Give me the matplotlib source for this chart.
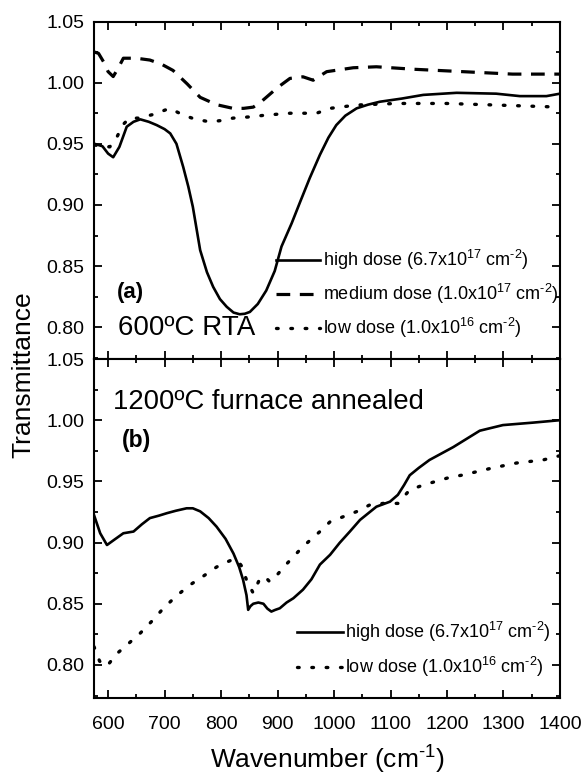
import matplotlib
matplotlib.use("Agg")
import matplotlib.pyplot as plt
from matplotlib.ticker import MultipleLocator, FormatStrFormatter

plt.rcParams['font.family'] = ['Liberation Sans', 'DejaVu Sans']
plt.rcParams['mathtext.fontset'] = 'custom'
plt.rcParams['mathtext.rm'] = 'Liberation Sans'
plt.rcParams['mathtext.default'] = 'regular'

# ---- Panel (a): 600ºC RTA ----
a_high_x = [576, 590, 600, 609, 620, 633, 645, 657, 672, 686, 700, 710, 721, 733, 742, 750,
            763, 775, 786, 798, 810, 822, 833, 842, 851, 865, 880, 895, 907, 925, 940, 957,
            975, 990, 1004, 1020, 1040, 1060, 1081, 1120, 1158, 1217, 1287, 1329, 1376, 1400]
a_high_y = [0.950, 0.948, 0.942, 0.939, 0.9475, 0.964, 0.968, 0.970, 0.968, 0.9653, 0.962, 0.9585,
            0.950, 0.931, 0.915, 0.8985, 0.863, 0.845, 0.833, 0.823, 0.8167, 0.812, 0.8106, 0.811,
            0.8125, 0.819, 0.830, 0.846, 0.866, 0.885, 0.9025, 0.922, 0.941, 0.955, 0.9653, 0.973,
            0.979, 0.982, 0.9844, 0.987, 0.990, 0.9917, 0.991, 0.989, 0.989, 0.991]

a_med_x = [576, 583, 592, 600, 609, 618, 627, 650, 674, 695, 715, 740, 763, 792, 821, 840, 857,
           870, 880, 900, 922, 945, 963, 987, 1034, 1075, 1140, 1228, 1316, 1400]
a_med_y = [1.025, 1.024, 1.017, 1.009, 1.005, 1.012, 1.020, 1.020, 1.0185, 1.015, 1.010, 0.999,
           0.988, 0.982, 0.979, 0.979, 0.980, 0.984, 0.988, 0.996, 1.0035, 1.0048, 1.002, 1.009,
           1.0122, 1.013, 1.011, 1.009, 1.007, 1.007]

a_low_x = [576, 590, 603, 615, 627, 638, 653, 680, 709, 733, 755, 780, 800, 821, 850, 880, 922,
           969, 993, 1040, 1110, 1199, 1287, 1400]
a_low_y = [0.949, 0.948, 0.9475, 0.955, 0.966, 0.971, 0.971, 0.974, 0.979, 0.9735, 0.970, 0.968,
           0.969, 0.971, 0.972, 0.9735, 0.975, 0.975, 0.979, 0.9817, 0.983, 0.983, 0.9817, 0.980]

# ---- Panel (b): 1200ºC furnace annealed ----
b_high_x = [575, 586, 598, 610, 627, 645, 660, 674, 690, 704, 720, 739, 750, 763, 778, 792, 808,
            822, 832, 839, 845, 848, 852, 857, 866, 875, 882, 889, 896, 904, 916, 928, 945, 960,
            975, 993, 1010, 1028, 1046, 1075, 1099, 1113, 1124, 1134, 1150, 1169, 1211, 1258,
            1299, 1352, 1400]
b_high_y = [0.9225, 0.9076, 0.898, 0.902, 0.9076, 0.909, 0.915, 0.920, 0.922, 0.924, 0.926, 0.928,
            0.928, 0.9255, 0.920, 0.913, 0.903, 0.891, 0.880, 0.8695, 0.857, 0.845, 0.848, 0.850,
            0.851, 0.850, 0.846, 0.8436, 0.845, 0.8463, 0.851, 0.8545, 0.8615, 0.870, 0.882,
            0.890, 0.8998, 0.909, 0.9185, 0.9293, 0.9334, 0.939, 0.947, 0.955, 0.961, 0.9675,
            0.978, 0.9914, 0.996, 0.998, 1.000]

b_low_x = [575, 585, 598, 615, 635, 657, 678, 698, 720, 745, 770, 792, 810, 822, 830, 836, 845,
           857, 869, 878, 886, 900, 916, 945, 975, 993, 1040, 1063, 1087, 1113, 1134, 1158, 1205,
           1228, 1278, 1323, 1370, 1400]
b_low_y = [0.815, 0.803, 0.799, 0.809, 0.817, 0.826, 0.836, 0.8463, 0.856, 0.8654, 0.873, 0.880,
           0.884, 0.8864, 0.885, 0.881, 0.8695, 0.8586, 0.8708, 0.872, 0.868, 0.874, 0.8825,
           0.8967, 0.909, 0.917, 0.9253, 0.9307, 0.932, 0.932, 0.943, 0.947, 0.9533, 0.9552,
           0.9607, 0.965, 0.9675, 0.971]

lbl_high = r"high dose (6.7x10$^{17}$ cm$^{\text{-}2}$)"
lbl_med = r"medium dose (1.0x10$^{17}$ cm$^{\text{-}2}$)"
lbl_low = r"low dose (1.0x10$^{16}$ cm$^{\text{-}2}$)"

x_ticks_major = 100
x_ticks_minor = 50

fig = plt.figure(figsize=(5.83, 7.83), dpi=100)
ax1 = fig.add_axes([0.1612, 0.5415, 0.7993, 0.4310])
ax2 = fig.add_axes([0.1612, 0.1086, 0.7993, 0.4329])

solid_kw = dict(color='black', lw=1.9, linestyle='-')
dash_kw = dict(color='black', lw=2.3, linestyle=(0, (4.3, 3.0)), dash_capstyle='butt')
dot_kw = dict(color='black', lw=2.4, linestyle=(0, (0.5, 3.8)), dash_capstyle='round')

ax1.plot(a_high_x, a_high_y, label=lbl_high, **solid_kw)
ax1.plot(a_med_x, a_med_y, label=lbl_med, **dash_kw)
ax1.plot(a_low_x, a_low_y, label=lbl_low, **dot_kw)

ax2.plot(b_high_x, b_high_y, label=lbl_high, **solid_kw)
ax2.plot(b_low_x, b_low_y, label=lbl_low, **dot_kw)

ax1.set_ylim(0.774, 1.05)
ax2.set_ylim(0.773, 1.05)
for ax in (ax1, ax2):
    ax.set_xlim(575, 1400)
    ax.xaxis.set_major_locator(MultipleLocator(x_ticks_major))
    ax.xaxis.set_minor_locator(MultipleLocator(x_ticks_minor))
    ax.yaxis.set_major_locator(MultipleLocator(0.05))
    ax.yaxis.set_minor_locator(MultipleLocator(0.025))
    ax.yaxis.set_major_formatter(FormatStrFormatter('%.2f'))
    ax.tick_params(which='both', direction='in', top=True, right=True, width=1.3)
    ax.tick_params(which='major', length=5.5, labelsize=14, pad=7)
    ax.tick_params(which='minor', length=3)
    ax.tick_params(axis='x', pad=13)
    for s in ax.spines.values():
        s.set_linewidth(1.5)

ax1.tick_params(axis='x', labelbottom=False)

leg1 = ax1.legend(loc='lower left', bbox_to_anchor=(0.39, 0.055), frameon=False,
                  fontsize=13, handlelength=2.45, handletextpad=0.15, labelspacing=0.55,
                  borderpad=0, borderaxespad=0)
leg2 = ax2.legend(loc='lower left', bbox_to_anchor=(0.435, 0.055), frameon=False,
                  fontsize=13, handlelength=2.55, handletextpad=0.15, labelspacing=0.6,
                  borderpad=0, borderaxespad=0)

ax1.text(0.049, 0.196, '(a)', transform=ax1.transAxes, fontsize=16, fontweight='bold',
         ha='left', va='center')
ax1.text(0.051, 0.092, '600ºC RTA', transform=ax1.transAxes, fontsize=20,
         ha='left', va='center')
ax2.text(0.041, 0.873, '1200ºC furnace annealed', transform=ax2.transAxes, fontsize=19.8,
         ha='left', va='center')
ax2.text(0.059, 0.761, '(b)', transform=ax2.transAxes, fontsize=16.5, fontweight='bold',
         ha='left', va='center')

fig.text(0.04, 0.521, 'Transmittance', rotation=90, fontsize=19, ha='center', va='center')
ax2.set_xlabel(r'Wavenumber (cm$^{\text{-}1}$)', fontsize=19, labelpad=8)

fig.savefig('out.png', dpi=100)
